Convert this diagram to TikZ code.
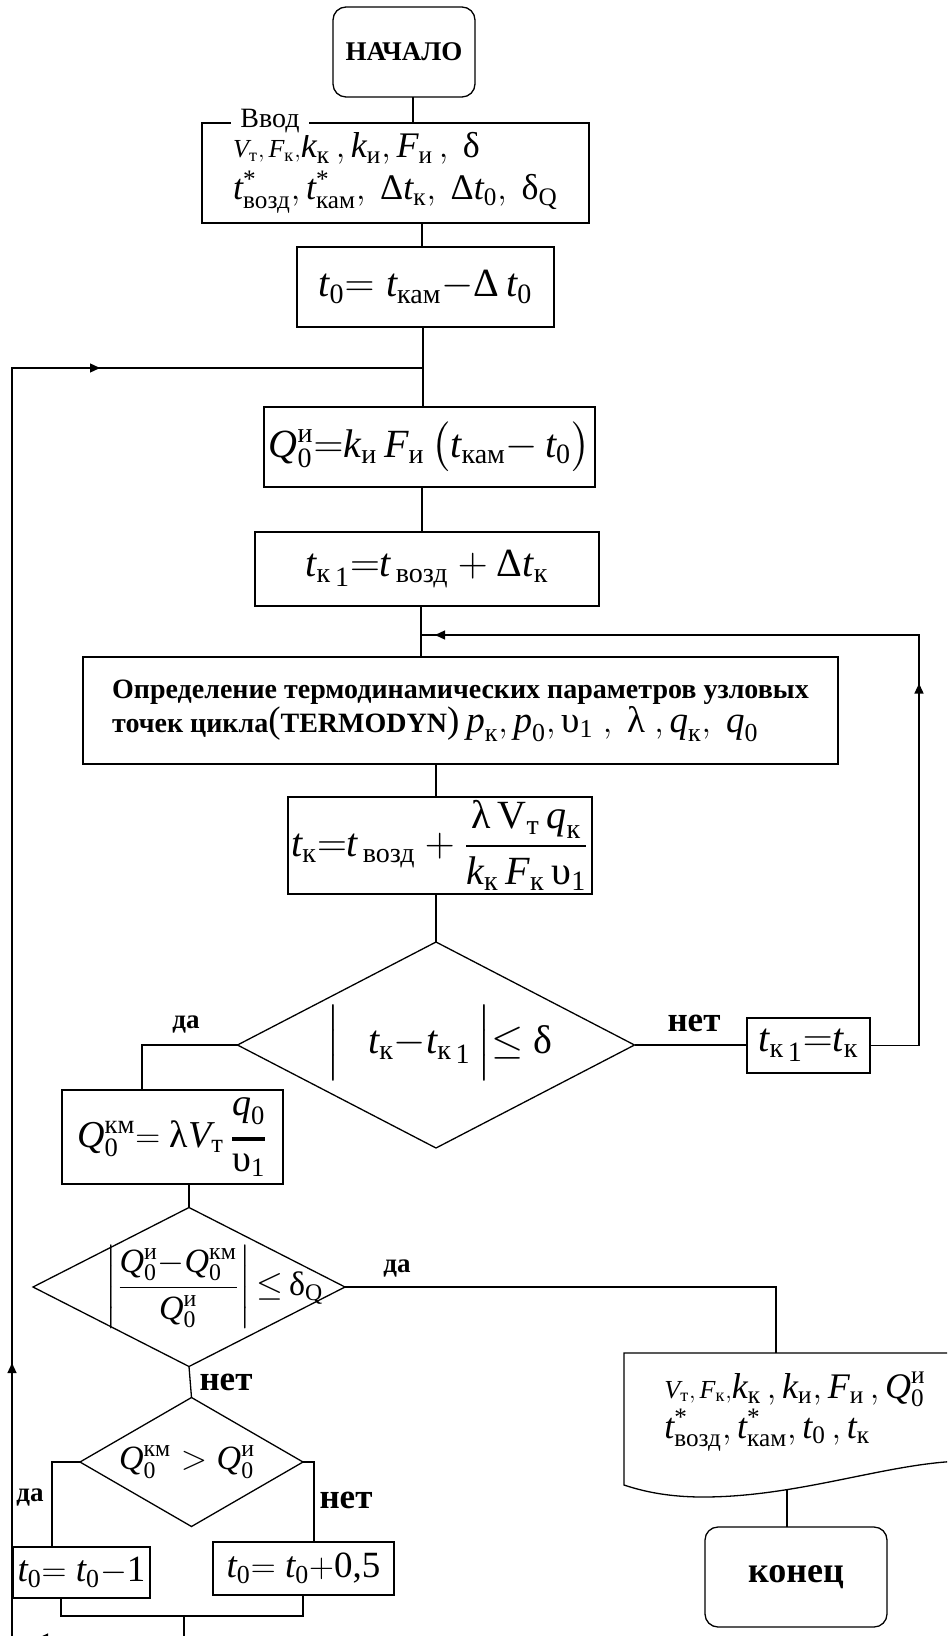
\documentclass[tikz,border=0pt]{standalone}
\usepackage{amsmath}
\usepackage{fontspec}
\setmainfont{Liberation Serif}
\usetikzlibrary{shapes.geometric,arrows.meta,decorations.markings}
\newcommand\mi[1]{\textit{#1}}
\newcommand\tx[1]{\text{#1}}
\newcommand\kone{\tx{к}\,\lower2pt\hbox{$\scriptstyle\tx{1}$}}
\newcommand\fsA{\fontsize{20pt}{24pt}\selectfont}
\newcommand\fsS{\fontsize{18.5pt}{22pt}\selectfont}
\newcommand\fsB{\fontsize{18pt}{21pt}\selectfont}
\newcommand\fsC{\fontsize{17pt}{20pt}\selectfont}
\newcommand\fsP{\fontsize{18.5pt}{22pt}\selectfont}
\newcommand\fsV{\fontsize{13pt}{15pt}\selectfont}
\newcommand\tipA{\arrow{Triangle[length=5pt,width=4.5pt]}}
\begin{document}
\begin{tikzpicture}[x=0.5pt,y=-0.5pt,
  every node/.style={inner sep=0pt, outer sep=0pt},
  box/.style={draw, line width=0.65pt},
  term/.style={box, rounded corners=6.5pt},
  dia/.style={draw, line width=0.65pt, diamond},
  conn/.style={line width=0.65pt},
  lblY/.style={font=\fontsize{13.5pt}{16pt}\selectfont\bfseries},
  lblN/.style={font=\fontsize{17.5pt}{20pt}\selectfont\bfseries},
  marks/.style={postaction={decorate}, decoration={markings, #1}}
]
\useasboundingbox (0,0) rectangle (947,1636);
\clip (0,0) rectangle (947,1636);

% helper coordinates
\coordinate (x413) at (413,0);
\coordinate (x421) at (421,0);
\coordinate (x422) at (422,0);
\coordinate (x423) at (423,0);
\coordinate (x436) at (436,0);
\coordinate (x142) at (142,0);
\coordinate (x919) at (919,0);
\coordinate (x52) at (52,0);
\coordinate (x314) at (314,0);
\coordinate (x61) at (61,0);
\coordinate (x303) at (303,0);
\coordinate (x12) at (12,0);
\coordinate (jn0) at (423,368);
\coordinate (thk) at (423,386);
\coordinate (jn1) at (421,635);
\coordinate (merge) at (184,1616);
\coordinate (doct) at (776,1353);
\coordinate (docb) at (787,1489);

% nodes
\node[term, minimum width=71pt, minimum height=45pt,
      font=\fontsize{13.5pt}{16pt}\selectfont\bfseries] (start) at (404,52) {НАЧАЛО};

\node[box, minimum width=193.5pt, minimum height=50pt, align=left, font=\fsB] (in) at (395.5,173)
 {$\text{\fsV$\mi{V}_{\tx{т}},\mi{F}_{\tx{к}},$}\mi{k}_{\tx{к}}\,,\mi{k}_{\tx{и}},\mi{F}_{\tx{и}}\,,\ \tx{δ}$\\
  $\mi{t}^{\tx{*}}_{\tx{возд}},\mi{t}^{\tx{*}}_{\tx{кам}},\ \tx{Δ}\mi{t}_{\tx{к}},\ \tx{Δ}\mi{t}_{\tx{0}},\ \tx{δ}_{\tx{Q}}$};
\node[fill=white, inner xsep=4.5pt, inner ysep=1pt, anchor=base,
      font=\fontsize{14pt}{16pt}\selectfont] (vvod) at (270,128) {Ввод};

\node[box, minimum width=128.5pt, minimum height=40pt, font=\fsA] (t0) at (425.5,287)
 {$\mi{t}_{\tx{0}}{=}\;\mi{t}_{\tx{кам}}{-}\tx{Δ}\,\mi{t}_{\tx{0}}$};

\node[box, minimum width=165.5pt, minimum height=40pt, font=\fsA] (q0) at (429.5,447)
 {$\mi{Q}^{\tx{и}}_{\tx{0}}{=}\mi{k}_{\tx{и}}\,\mi{F}_{\tx{и}}\,\bigl(\mi{t}_{\tx{кам}}{-}\,\mi{t}_{\tx{0}}\bigr)$};

\node[box, minimum width=172pt, minimum height=37pt, font=\fsA] (tk1) at (427,569)
 {$\mi{t}_{\kone}{=}\mi{t}_{\,\tx{возд}}+\tx{Δ}\mi{t}_{\tx{к}}$};

\node[box, minimum width=377.5pt, minimum height=53.5pt, align=left,
      font=\fontsize{14pt}{17pt}\selectfont\bfseries] (opr) at (460.5,710.5)
 {Определение термодинамических параметров узловых\\
  точек цикла{\fsP\mdseries(}TERMODYN{\fsP\mdseries)}\ {\fsP\mdseries$\mi{p}_{\tx{к}},\mi{p}_{\tx{0}},\tx{υ}_{\tx{1}}\ ,\ \tx{λ}\ ,\mi{q}_{\tx{к}},\ \mi{q}_{\tx{0}}$}};

\node[box, minimum width=152pt, minimum height=48.5pt, font=\fsA] (tk) at (440,845.5)
 {$\mi{t}_{\tx{к}}{=}\mi{t}_{\,\tx{возд}}+\dfrac{\tx{λ}\,\tx{V}_{\tx{т}}\,\mi{q}_{\tx{к}}}{\mi{k}_{\tx{к}}\,\mi{F}_{\tx{к}}\,\tx{υ}_{\tx{1}}}$};

\node[dia, minimum width=198.5pt, minimum height=103pt] (d1) at (436,1045) {};
\node[font=\fsA] (d1t) at (439.5,1043)
 {$\Big|\hspace{14pt}\mi{t}_{\tx{к}}{-}\mi{t}_{\kone}\,\Big|{\le}\ \tx{δ}$};

\node[box, minimum width=61.5pt, minimum height=27.5pt, font=\fsA] (tkk) at (808.5,1045.5)
 {$\mi{t}_{\kone}{=}\mi{t}_{\tx{к}}$};

\node[box, minimum width=110.5pt, minimum height=47pt, font=\fontsize{19pt}{22pt}\selectfont] (q0km) at (172.5,1137)
 {$\mi{Q}^{\tx{км}}_{\tx{0}}{=}\ \tx{λ}\mi{V}_{\tx{т}}\,\genfrac{}{}{2pt}{0}{\mi{q}_{\tx{0}}}{\tx{υ}_{\tx{1}}}$};

\node[dia, minimum width=156pt, minimum height=79.5pt] (d2) at (189,1287) {};
\node[font=\fsC] (d2t) at (214.5,1287)
 {$\left|\genfrac{}{}{0.5pt}{0}{\mi{Q}^{\tx{и}}_{\tx{0}}{-}\mi{Q}^{\tx{км}}_{\tx{0}}}{\mi{Q}^{\tx{и}}_{\tx{0}}}\right|{\le}\,\tx{δ}_{\tx{Q}}$};

\node[dia, minimum width=111.5pt, minimum height=64.5pt] (d3) at (191.5,1462) {};
\node[font=\fsC] (d3t) at (187,1462)
 {$\mi{Q}^{\tx{км}}_{\tx{0}} > \mi{Q}^{\tx{и}}_{\tx{0}}$};

\node[box, minimum width=68.5pt, minimum height=25.5pt, font=\fsS] (bA) at (81.5,1572.5)
 {$\mi{t}_{\tx{0}}{=}\ \mi{t}_{\tx{0}}{-}\tx{1}$};
\node[box, minimum width=90.5pt, minimum height=26.5pt, font=\fsS] (bB) at (303.5,1568.5)
 {$\mi{t}_{\tx{0}}{=}\ \mi{t}_{\tx{0}}{+}\tx{0,5}$};

% output document shape
\draw[line width=0.65pt] (624,1353) -- (965,1353) -- (965,1461)
  .. controls (890,1462) and (800,1497) .. (703,1497)
  .. controls (670,1497) and (645,1492) .. (624,1485) -- cycle;
\node[align=left, font=\fontsize{18pt}{20pt}\selectfont] (doctext) at (795,1412)
 {$\text{\fsV$\mi{V}_{\tx{т}},\mi{F}_{\tx{к}},$}\mi{k}_{\tx{к}}\,,\mi{k}_{\tx{и}},\mi{F}_{\tx{и}}\,,\mi{Q}^{\tx{и}}_{\tx{0}}$\\
  $\mi{t}^{\tx{*}}_{\tx{возд}},\mi{t}^{\tx{*}}_{\tx{кам}},\mi{t}_{\tx{0}}\,,\mi{t}_{\tx{к}}$};

\node[term, minimum width=91pt, minimum height=50pt,
      font=\fontsize{18pt}{20pt}\selectfont\bfseries] (fin) at (796,1577) {конец};

% labels
\node[lblY] (y1) at (186,1025) {да};
\node[lblN] (n1) at (694,1023) {нет};
\node[lblY] (y2) at (397,1268) {да};
\node[lblN] (n2) at (226,1382) {нет};
\node[lblY] (y3) at (30,1497) {да};
\node[lblN] (n3) at (346,1500) {нет};

% connectors
\draw[conn] (start.south -| x413) -- (in.north -| x413);
\draw[conn] (in.south -| x422) -- (t0.north -| x422);
\draw[conn] (t0.south -| x423) -- (q0.north -| x423);
\draw[line width=1.3pt] (t0.south -| x423) -- (thk);
\draw[conn] (q0.south -| x422) -- (tk1.north -| x422);
\draw[conn] (tk1.south -| x421) -- (opr.north -| x421);
\draw[conn] (opr.south -| x436) -- (tk.north -| x436);
\draw[conn] (tk.south -| d1.north) -- (d1.north);
\draw[conn] (d1.west) -| (x142 |- q0km.north);
\draw[conn] (d1.east) -- (tkk.west |- d1.east);
\draw[conn, marks={mark=at position 205.5pt with {\tipA}, mark=at position -7pt with {\tipA}}]
  (tkk.east) -| (x919 |- jn1) -- (jn1);
\draw[conn] (q0km.south -| d2.north) -- (d2.north);
\draw[conn] (d2.east) -| (doct);
\draw[conn] (d2.south) -- (d3.north);
\draw[conn] (d3.west) -| (x52 |- bA.north);
\draw[conn] (d3.east) -| (x314 |- bB.north);
\draw[conn] (bA.south -| x61) |- (merge) -| (bB.south -| x303);
\draw[conn, marks={mark=at position 84pt with {\tipA}, mark=at position 234.5pt with {\tipA}, mark=at position 776pt with {\tipA}}]
  (merge) -- ++(0,22) -| (x12 |- jn0) -- (jn0);
\draw[conn] (docb) -- (docb |- fin.north);
\end{tikzpicture}
\end{document}
